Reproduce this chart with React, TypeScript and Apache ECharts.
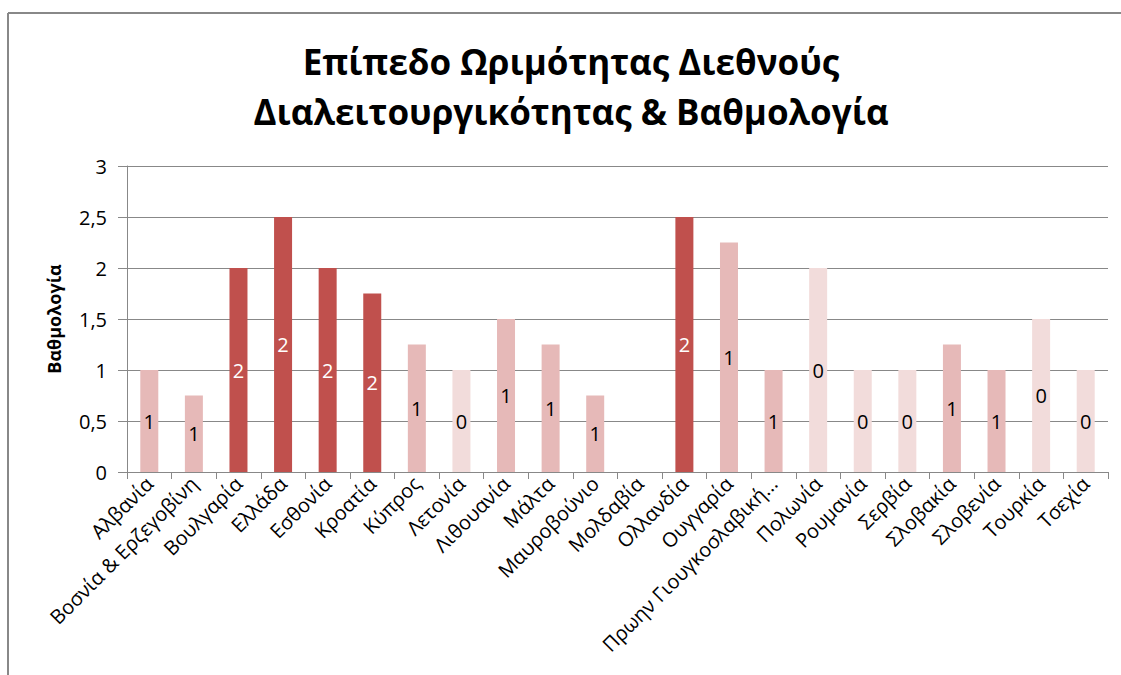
import React, { useEffect, useRef } from "react";
import * as echarts from "echarts";

const categories = [
  "Αλβανία",
  "Βοσνία & Ερζεγοβίνη",
  "Βουλγαρία",
  "Ελλάδα",
  "Εσθονία",
  "Κροατία",
  "Κύπρος",
  "Λετονία",
  "Λιθουανία",
  "Μάλτα",
  "Μαυροβούνιο",
  "Μολδαβία",
  "Ολλανδία",
  "Ουγγαρία",
  "Πρωην Γιουγκοσλαβική...",
  "Πολωνία",
  "Ρουμανία",
  "Σερβία",
  "Σλοβακία",
  "Σλοβενία",
  "Τουρκία",
  "Τσεχία",
];

const scores = [1, 0.75, 2, 2.5, 2, 1.75, 1.25, 1, 1.5, 1.25, 0.75, 0, 2.5, 2.25, 1, 2, 1, 1, 1.25, 1, 1.5, 1];
const levels = [1, 1, 2, 2, 2, 2, 1, 0, 1, 1, 1, null, 2, 1, 1, 0, 0, 0, 1, 1, 0, 0];

const yTicks = [0, 0.5, 1, 1.5, 2, 2.5, 3];

const titleLines = ["Επίπεδο Ωριμότητας Διεθνούς", "Διαλειτουργικότητας & Βαθμολογία"];

const levelColors: Record<string, string> = { "0": "#F2DCDB", "1": "#E6B9B8", "2": "#C0504D" };
const levelLabelColors: Record<string, string> = { "0": "#000000", "1": "#000000", "2": "#FFFFFF" };

export default function App() {
  const ref = useRef<HTMLDivElement>(null);
  useEffect(() => {
    if (!ref.current) return;
    const chart = echarts.init(ref.current, null, { renderer: "svg" });
    const font = "'Open Sans', 'Noto Sans', sans-serif";
    const data = scores.map((v, i) => {
      const lv = levels[i];
      const key = lv === null ? "0" : String(lv);
      return {
        value: v,
        itemStyle: { color: levelColors[key] },
        label: {
          show: lv !== null && v > 0,
          color: levelLabelColors[key],
          formatter: () => (lv === null ? "" : String(lv)),
        },
      };
    });
    chart.setOption({
      animation: false,
      backgroundColor: "#FFFFFF",
      textStyle: { fontFamily: font },
      graphic: [
        {
          type: "line",
          shape: { x1: 8, y1: 13, x2: 1121, y2: 13 },
          style: { stroke: "#888888", lineWidth: 2 },
          silent: true,
        },
        {
          type: "line",
          shape: { x1: 8, y1: 13, x2: 8, y2: 675 },
          style: { stroke: "#888888", lineWidth: 2 },
          silent: true,
        },
        ...titleLines.map((t, i) => ({
          type: "text",
          x: 571,
          y: 61 + i * 50,
          silent: true,
          style: {
            text: t,
            fill: "#000000",
            font: `bold 35px ${font}`,
            align: "center",
            verticalAlign: "middle",
          },
        })),
      ],
      grid: { left: 127, right: 13, top: 166, bottom: 203, containLabel: false },
      xAxis: {
        type: "category",
        data: categories,
        boundaryGap: true,
        axisLine: { show: true, lineStyle: { color: "#888888", width: 1 } },
        axisTick: { show: true, alignWithLabel: false, length: 7, lineStyle: { color: "#888888" } },
        axisLabel: {
          interval: 0,
          rotate: 45,
          margin: 8,
          fontSize: 20,
          color: "#000000",
          fontFamily: font,
        },
      },
      yAxis: {
        type: "value",
        min: 0,
        max: 3,
        interval: 0.5,
        name: "Βαθμολογία",
        nameLocation: "middle",
        nameGap: 64,
        nameRotate: 90,
        nameTextStyle: { fontSize: 18, fontWeight: "bold", color: "#000000", fontFamily: font },
        axisLine: { show: true, lineStyle: { color: "#888888", width: 1 } },
        axisTick: { show: true, length: 9, lineStyle: { color: "#888888" } },
        splitLine: { show: true, lineStyle: { color: "#888888", width: 1 } },
        axisLabel: {
          fontSize: 20,
          color: "#000000",
          margin: 20,
          fontFamily: font,
          formatter: (v: number) => {
            const t = yTicks.find((x) => Math.abs(x - v) < 1e-9);
            return String(t !== undefined ? t : v).replace(".", ",");
          },
        },
      },
      series: [
        {
          type: "bar",
          data,
          barWidth: 18,
          label: {
            show: true,
            position: "inside",
            fontSize: 20,
            fontFamily: font,
          },
        },
      ],
    });
    return () => chart.dispose();
  }, []);
  return (
    <div
      ref={ref}
      style={{ position: "absolute", left: 0, top: 0, width: 1121, height: 675 }}
    />
  );
}
